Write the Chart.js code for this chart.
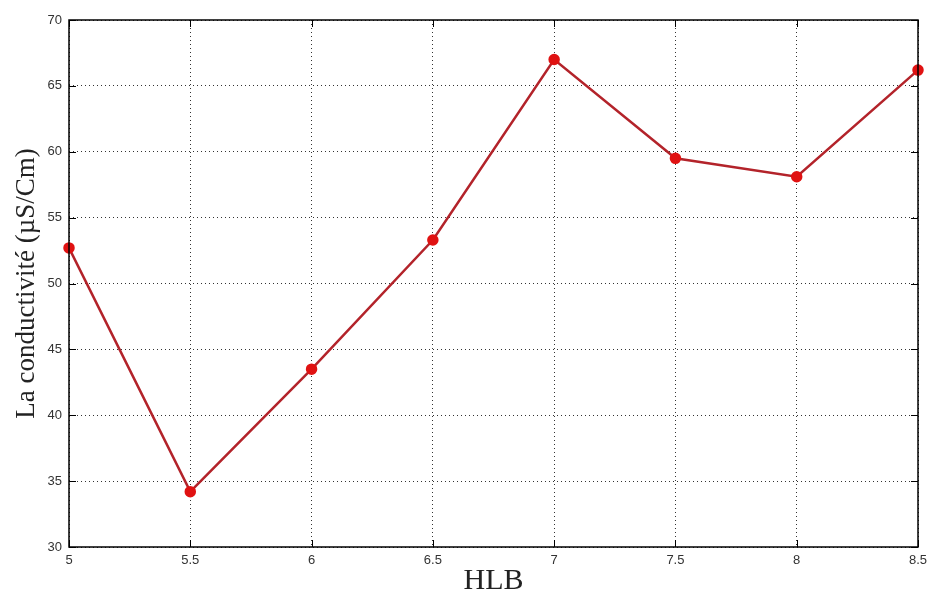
<!DOCTYPE html>
<html lang="fr">
<head>
  <meta charset="UTF-8">
  <title>Conductivité vs HLB</title>
  <script src="https://cdn.jsdelivr.net/npm/chart.js"></script>
  <style>
    body { margin: 0; padding: 0; background: #fff; }
    #wrap { width: 929px; height: 596px; }
  </style>
</head>
<body>
  <div id="wrap"><canvas id="chart" width="929" height="596"></canvas></div>

  <script>
    // data
    const hlb = [5, 5.5, 6, 6.5, 7, 7.5, 8, 8.5];
    const conductivity = [52.7, 34.2, 43.5, 53.3, 67.0, 59.5, 58.1, 66.2];
    const xTicks = [5, 5.5, 6, 6.5, 7, 7.5, 8, 8.5];
    const yTicks = [30, 35, 40, 45, 50, 55, 60, 65, 70];

    // box + inward ticks like matlab
    const boxPlugin = {
      id: 'box',
      afterDraw(chart) {
        const { ctx, chartArea: a, scales } = chart;
        ctx.save();
        ctx.strokeStyle = '#000';
        ctx.lineWidth = 1.5;
        ctx.strokeRect(a.left, a.top, a.right - a.left, a.bottom - a.top);
        ctx.lineWidth = 1;
        const len = 7;
        xTicks.forEach(v => {
          const x = Math.round(scales.x.getPixelForValue(v)) + 0.5;
          ctx.beginPath();
          ctx.moveTo(x, a.bottom); ctx.lineTo(x, a.bottom - len);
          ctx.moveTo(x, a.top); ctx.lineTo(x, a.top + len);
          ctx.stroke();
        });
        yTicks.forEach(v => {
          const y = Math.round(scales.y.getPixelForValue(v)) + 0.5;
          ctx.beginPath();
          ctx.moveTo(a.left, y); ctx.lineTo(a.left + len, y);
          ctx.moveTo(a.right, y); ctx.lineTo(a.right - len, y);
          ctx.stroke();
        });
        ctx.restore();
      }
    };

    const tickFont = { family: '"Liberation Sans", Arial, sans-serif', size: 13 };
    const serif = '"Liberation Serif", "Times New Roman", serif';

    new Chart(document.getElementById('chart').getContext('2d'), {
      type: 'line',
      data: {
        datasets: [{
          data: hlb.map((x, i) => ({ x: x, y: conductivity[i] })),
          borderColor: '#b3232a',
          borderWidth: 2.5,
          pointBackgroundColor: '#e01212',
          pointBorderColor: '#e01212',
          pointRadius: 4.5,
          tension: 0,
          fill: false,
          clip: false
        }]
      },
      options: {
        responsive: false,
        animation: false,
        layout: { padding: { top: 20, right: 11, left: 0, bottom: 0 } },
        plugins: {
          legend: { display: false },
          tooltip: { enabled: false }
        },
        scales: {
          x: {
            type: 'linear',
            min: 5, max: 8.5,
            afterBuildTicks: s => { s.ticks = xTicks.map(v => ({ value: v })); },
            afterFit: s => { s.height = 49; s.paddingLeft = 0; s.paddingRight = 0; },
            grid: { color: '#333', lineWidth: 1, drawTicks: false },
            border: { display: false, dash: [1, 3] },
            ticks: { font: tickFont, color: '#333', padding: 6, maxRotation: 0, callback: v => String(v) },
            title: { display: true, text: 'HLB', font: { family: serif, size: 30, lineHeight: 1 }, color: '#222', padding: { top: 0, bottom: 0 } }
          },
          y: {
            min: 30, max: 70,
            afterBuildTicks: s => { s.ticks = yTicks.map(v => ({ value: v })); },
            afterFit: s => { s.width = 69; s.paddingTop = 0; s.paddingBottom = 0; },
            grid: { color: '#333', lineWidth: 1, drawTicks: false },
            border: { display: false, dash: [1, 3] },
            ticks: { font: tickFont, color: '#333', padding: 7, callback: v => String(v) },
            title: { display: true, text: 'La conductivité (µS/Cm)', font: { family: serif, size: 27, lineHeight: 1 }, color: '#222', padding: { top: 13, bottom: 0 } }
          }
        }
      },
      plugins: [boxPlugin]
    });
  </script>
</body>
</html>
